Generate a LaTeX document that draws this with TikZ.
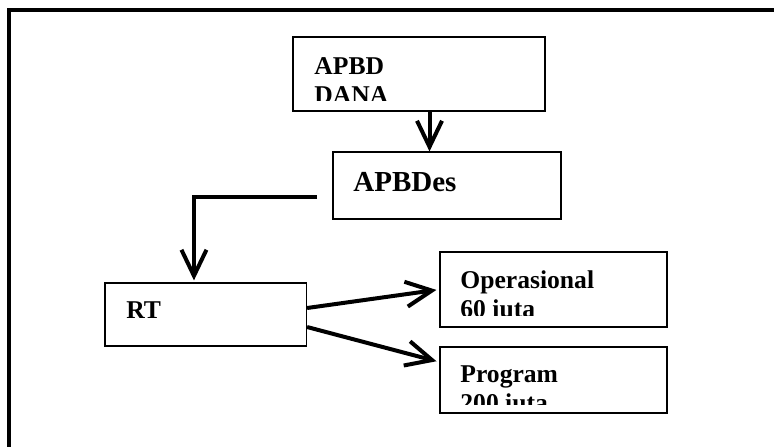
\documentclass[tikz,border=0pt]{standalone}
\usepackage{fontspec}
\setmainfont{Liberation Serif}
\usetikzlibrary{arrows.meta}
\tikzset{
  box/.style={draw, line width=0.6pt, inner sep=0pt},
  txt/.style={anchor=north west, inner sep=0pt, align=left, font=\fontsize{12.8}{14.8}\selectfont\bfseries},
  arr/.style={-{Straight Barb[length=13pt,width=12.5pt]}, line width=2pt},
}
\begin{document}
\begin{tikzpicture}[x=0.5pt,y=-0.5pt]
    \useasboundingbox (0,0) rectangle (774,447);
    \draw[line width=2pt] (774,10) -- (9.3,10) -- (9.3,447);

    \node[box, minimum width=126pt, minimum height=37pt] (v1) at (419,74) {};
    \node[box, minimum width=114pt, minimum height=33.5pt] (v2) at (447,185.5) {};
    \node[box, minimum width=100.75pt, minimum height=31.5pt] (v3) at (205.75,314.5) {};
    \node[box, minimum width=113.5pt, minimum height=37.5pt] (v4) at (553.5,289.5) {};
    \node[box, minimum width=113.5pt, minimum height=33pt] (v5) at (553.5,380) {};

    \begin{scope}
    \clip (v1.north west) rectangle ([yshift=5.5pt]v1.south east);
    \node[txt] (t1) at (314,56.7) {APBD\\DANA};
    \end{scope}
    \node[txt, font=\fontsize{14.5}{17}\selectfont\bfseries] (t2) at (353,171.7) {APBDes};
    \node[txt] (t3) at (126,301.7) {RT};
    \begin{scope}
    \clip (v4.north west) rectangle ([yshift=6pt]v4.south east);
    \node[txt] (t4) at (460,270) {Operasional\\60 iuta};
    \end{scope}
    \begin{scope}
    \clip (v5.north west) rectangle ([yshift=4.8pt]v5.south east);
    \node[txt] (t5) at (460,365) {Program\\200 iuta};
    \end{scope}

    \coordinate (c1) at (317,197);
    \draw[arr] ([xshift=5.25pt]v1.south) -- ([xshift=5.25pt]v1.south |- v2.north);
    \draw[arr, shorten >=1pt] (c1) -| ([xshift=-5.9pt]v3.north);
    \draw[arr, shorten >=1.5pt] ([yshift=3.25pt]v3.east) -- (v4.west);
    \draw[arr, shorten >=1.5pt] ([yshift=-6.25pt]v3.east) -- ([yshift=9pt]v5.west);
\end{tikzpicture}
\end{document}
